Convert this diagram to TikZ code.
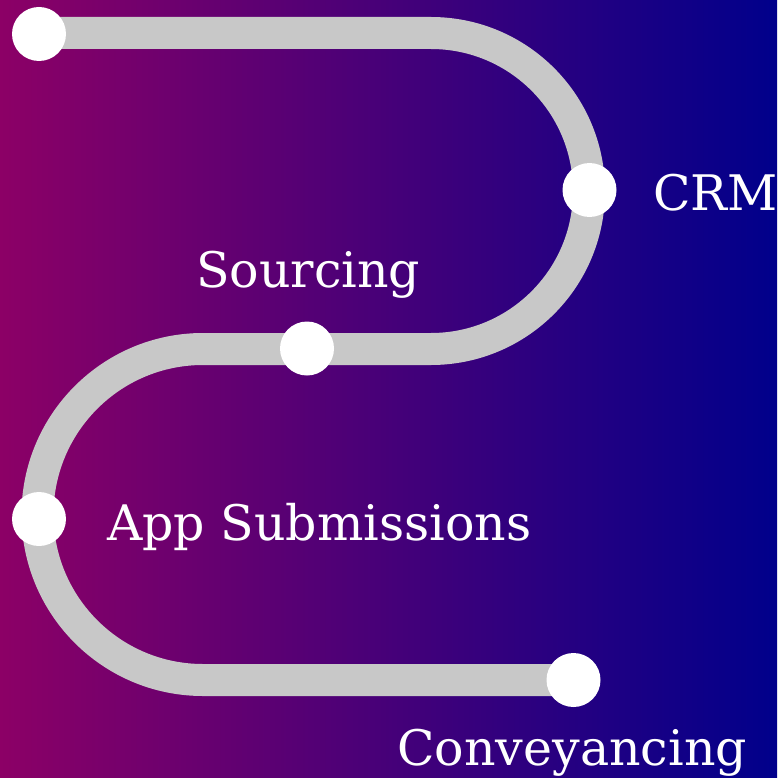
\documentclass[tikz,border=0pt]{standalone}
\usepackage{fontspec}
\setmainfont{DejaVu Serif}
\definecolor{bgleft}{RGB}{140,0,102}
\definecolor{bgright}{RGB}{0,0,139}
\definecolor{road}{RGB}{200,200,200}
\begin{document}
\begin{tikzpicture}[x=1pt,y=1pt,
  roadline/.style={draw=road,line width=32pt},
  dot/.style={circle,fill=white,minimum size=54pt,inner sep=0pt},
  lbl/.style={text=white,anchor=base west,inner sep=0pt,font=\fontsize{49}{56}\selectfont}]
\shade[left color=bgleft,right color=bgright] (0,0) rectangle (777,-778);
\useasboundingbox (0,0) rectangle (777,-778);
\coordinate (p1) at (39,-33);
\coordinate (p6) at (573.5,-680);
\draw[roadline] (p1) -- (431,-33) arc[start angle=90,end angle=-90,radius=158]
  -- (203,-349) arc[start angle=90,end angle=270,radius=165.5] -- (p6);
\node[dot] (start) at (39,-34) {};
\node[dot] (crm) at (589.5,-190) {};
\node[dot] (src) at (307,-348.5) {};
\node[dot] (app) at (39,-519) {};
\node[dot] (conv) at (573.5,-680) {};
\node[lbl] (tcrm) at (653,-210) {CRM};
\node[lbl] (tsrc) at (196,-287) {Sourcing};
\node[lbl] (tapp) at (107,-540) {App Submissions};
\node[lbl] (tconv) at (397,-765) {Conveyancing};
\end{tikzpicture}
\end{document}
